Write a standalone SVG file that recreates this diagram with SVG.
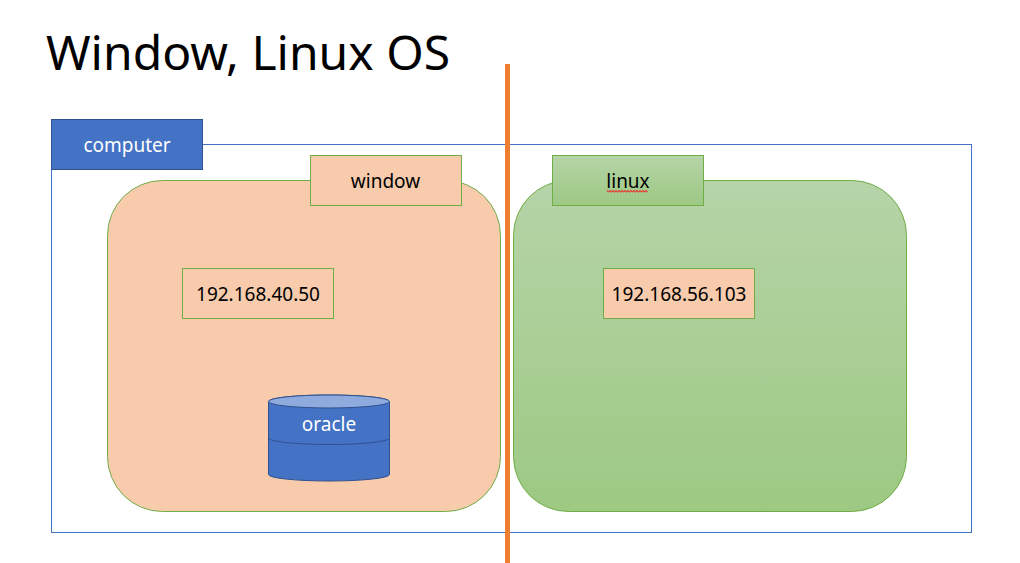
<svg xmlns="http://www.w3.org/2000/svg" width="1020" height="563" viewBox="0 0 1020 563">
<style>
text{font-family:"Noto Sans","Open Sans","Liberation Sans",sans-serif;text-anchor:middle}
.lbl{font-size:19px;fill:#000}
.wht{font-size:19px;fill:#fff}
.peach{fill:#f7cbac;stroke:#70ad47;stroke-width:1}
.blue{fill:#4472c4;stroke:#2f528f;stroke-width:1}
.grn{stroke:#70ad47;stroke-width:1}
</style>
<defs>
<linearGradient id="g" x1="0" y1="0" x2="0" y2="1"><stop offset="0" stop-color="#b6d4a8"/><stop offset="1" stop-color="#9dc983"/></linearGradient>
</defs>
<rect width="1020" height="563" fill="#fff"/>
<text id="title" x="248" y="70" style="font-size:48px" fill="#000">Window, Linux OS</text>
<g id="computer-frame"><rect x="51.5" y="144.5" width="920" height="388" fill="none" stroke="#4472c4"/></g>
<g id="computer"><rect class="blue" x="51.5" y="119.5" width="151" height="50"/><text class="wht" x="127" y="152">computer</text></g>
<g id="window">
<rect class="peach" x="107.5" y="180.5" width="393" height="331" rx="55" ry="55"/>
</g>
<g id="linux">
<rect class="grn" fill="url(#g)" x="513.5" y="180.5" width="393" height="331" rx="55" ry="55"/>
</g>
<g id="window-label"><rect class="peach" x="310.5" y="155.5" width="151" height="50"/><text class="lbl" x="385.5" y="188">window</text></g>
<g id="linux-label"><rect class="grn" fill="url(#g)" x="552.5" y="155.5" width="151" height="50"/><text class="lbl" x="628" y="188">linux</text>
<path d="M607 190.500l1.500 1.500 1.500-1.500 1.500 1.500 1.500-1.500 1.500 1.500 1.500-1.500 1.500 1.500 1.500-1.500 1.500 1.500 1.500-1.500 1.500 1.500 1.500-1.500 1.500 1.500 1.500-1.500 1.500 1.500 1.500-1.500 1.500 1.500 1.500-1.500 1.500 1.500 1.500-1.500 1.500 1.500 1.500-1.500 1.500 1.500 1.500-1.500 1.500 1.500 1.500-1.500 1.500 1.500" fill="none" stroke="#e0403a" stroke-width="1.200"/></g>
<g id="ip-window"><rect class="peach" x="182.500" y="268.500" width="151" height="50"/><text class="lbl" x="258" y="301">192.168.40.50</text></g>
<g id="ip-linux"><rect class="peach" x="603.500" y="268.500" width="151" height="50"/><text class="lbl" x="679" y="301">192.168.56.103</text></g>
<g id="oracle">
<path class="blue" d="M268.500 401.500A60.500 6.500 0 0 1 389.500 401.500V474.500A60.500 6.500 0 0 1 268.500 474.500Z"/>
<ellipse cx="329" cy="401.500" rx="60.500" ry="6.500" fill="#8faadc" stroke="#2f528f"/>
<path d="M268.500 438A60.500 6.500 0 0 0 389.500 438" fill="none" stroke="#2f528f"/>
<text class="wht" x="329" y="431">oracle</text>
</g>
<g id="connectors"><line x1="507.500" y1="64" x2="507.500" y2="563" stroke="#ed7d31" stroke-width="5"/></g>
</svg>
